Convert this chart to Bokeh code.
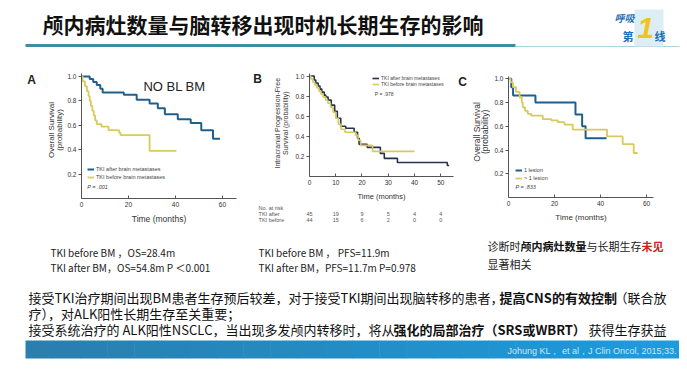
from math import pi
from bokeh.plotting import figure
from bokeh.layouts import column, row
from bokeh.models import Range1d, Label, Legend, LegendItem, FixedTicker, NumeralTickFormatter
from bokeh.embed import file_html
from bokeh.resources import INLINE

# ---------------- data ----------------
# Panel A: overall survival, no baseline brain metastases
a_after_t = [0, 3.5, 5, 6.5, 8, 9, 18, 23.5, 29, 32.5, 35.5, 41, 46.5, 51, 56, 59]
a_after_s = [1.0, 0.98, 0.955, 0.93, 0.90, 0.87, 0.85, 0.81, 0.78, 0.74, 0.69, 0.65, 0.62, 0.56, 0.49, 0.49]
a_before_t = [0, 0.5, 1.5, 2.3, 3, 3.5, 4, 4.6, 5.2, 5.8, 6.5, 8.5, 11.5, 16, 16.6, 29, 40.4]
a_before_s = [1.0, 0.96, 0.92, 0.88, 0.84, 0.80, 0.76, 0.72, 0.68, 0.64, 0.61, 0.59, 0.56, 0.54, 0.52, 0.39, 0.39]
a_xticks = [0, 20, 40, 60]

# Panel B: intracranial progression-free survival
b_after_t = [0, 1.8, 2.4, 3.3, 4.0, 4.7, 5.6, 6.2, 7.1, 8.3, 9.6, 10.6, 11.9, 13.8, 17, 18.3, 18.9, 22, 27, 28.5, 33.5, 52.5, 53.2]
b_after_s = [1.0, 0.96, 0.93, 0.90, 0.87, 0.84, 0.81, 0.79, 0.76, 0.71, 0.65, 0.58, 0.50, 0.48, 0.44, 0.38, 0.32, 0.29, 0.23, 0.18, 0.14, 0.11, 0.11]
b_before_t = [0, 0.5, 1.2, 2, 2.8, 3.6, 4.4, 5.2, 6.2, 7, 8, 9, 10, 11, 12, 13.5, 17.5, 18.5, 19.5, 24, 40]
b_before_s = [1.0, 0.97, 0.94, 0.91, 0.88, 0.85, 0.82, 0.79, 0.76, 0.73, 0.69, 0.64, 0.58, 0.52, 0.47, 0.44, 0.41, 0.36, 0.31, 0.25, 0.25]
b_xticks = [0, 10, 20, 30, 40, 50]
b_risk_after = ["45", "19", "9", "5", "4", "4"]
b_risk_before = ["44", "15", "6", "2", "0", "0"]

# Panel C: overall survival by number of lesions
c_one_t = [0, 1.2, 2.0, 11.7, 29.1, 32, 33.5, 42.6]
c_one_s = [1.0, 0.93, 0.86, 0.80, 0.70, 0.60, 0.50, 0.50]
c_multi_t = [0, 0.9, 1.9, 3.3, 4.8, 5.8, 6.2, 7.2, 8.4, 9.9, 14.9, 18.6, 21.4, 24.3, 27.9, 42.8, 49.6, 54.4, 56.1]
c_multi_s = [1.0, 0.97, 0.93, 0.89, 0.845, 0.80, 0.76, 0.73, 0.705, 0.69, 0.66, 0.65, 0.635, 0.615, 0.573, 0.515, 0.45, 0.375, 0.375]
c_xticks = [0, 20, 40, 60]

y_ticks = [0.2, 0.4, 0.6, 0.8, 1.0]

BLUE = "#1f5f8e"
NAVY = "#22344f"
YEL = "#d8ca5c"
AXC = "#555555"
CF = "Liberation Sans"
F = "Noto Sans CJK SC"


def km_panel(w, h, bl, br, bt, bb, xmax, ymax, xticks, xlab_size):
    p = figure(width=w, height=h, x_range=Range1d(0, xmax), y_range=Range1d(0, ymax),
               output_backend="svg", toolbar_location=None,
               min_border_left=bl, min_border_right=br, min_border_top=bt, min_border_bottom=bb)
    p.grid.visible = False
    p.outline_line_color = None
    p.xaxis.ticker = FixedTicker(ticks=xticks)
    p.yaxis.ticker = FixedTicker(ticks=y_ticks)
    p.yaxis.formatter = NumeralTickFormatter(format="0.0")
    for ax in (p.xaxis[0], p.yaxis[0]):
        ax.axis_line_color = AXC
        ax.major_tick_line_color = AXC
        ax.minor_tick_line_color = None
        ax.major_label_text_font = CF
        ax.major_label_text_font_size = "6.5px"
        ax.major_label_text_color = "#333333"
        ax.axis_label_text_font = CF
        ax.axis_label_text_font_style = "normal"
        ax.axis_label_text_color = "#333333"
        ax.major_label_standoff = 2
    p.xaxis.major_label_standoff = 3
    p.xaxis.major_tick_in = 3
    p.xaxis.major_tick_out = 0
    p.yaxis.major_tick_in = 0
    p.yaxis.major_tick_out = 3
    p.xaxis.axis_label = "Time (months)"
    p.xaxis.axis_label_text_font_size = xlab_size
    p.xaxis.axis_label_standoff = 4
    return p


def legend(p, items, loc, size="5.5px", h=8):
    lg = Legend(items=[LegendItem(label=l, renderers=[r]) for l, r in items], location=loc,
                orientation="vertical", padding=0, spacing=0, margin=0,
                glyph_width=7, glyph_height=h, label_height=h, label_standoff=2,
                label_text_font_size=size, label_text_color="#444444", label_text_font=CF,
                border_line_color=None, background_fill_alpha=0)
    p.add_layout(lg)


def lab(p, x, y, text, size, color="#222222", font=F, style="normal", align="left", angle=0):
    p.add_layout(Label(x=x, y=y, text=text, text_font_size=size, text_color=color,
                       text_font=font, text_font_style=style, text_align=align,
                       text_baseline="middle", angle=angle))


def deco(x0, x1, y0, y1, xr=None):
    """Decorative canvas whose data units are the slide's pixels (y downwards)."""
    p = figure(width=x1 - x0, height=y1 - y0,
               x_range=xr if xr is not None else Range1d(x0, x1), y_range=Range1d(y1, y0),
               output_backend="svg", toolbar_location=None, min_border=0)
    p.axis.visible = False
    p.grid.visible = False
    p.outline_line_color = None
    return p


def ylab(p, x, y, text, size):
    lab(p, x, y, text, size, "#333333", CF, "normal", "center", pi / 2)


# ---------------- Panel A ----------------
la = deco(0, 64, 62, 228)
lab(la, 31, 71, "A", "12px", "#222222", CF, "bold", "center")
ylab(la, 50.5, 137, "Overall Survival", "8px")
ylab(la, 59, 137, "(probability)", "8px")
pa = km_panel(176, 166, 15, 4, 11, 30, 66, 1.025, a_xticks, "8.5px")
ra1 = pa.step(a_after_t, a_after_s, mode="after", line_color=BLUE, line_width=2)
ra2 = pa.step(a_before_t, a_before_s, mode="after", line_color=YEL, line_width=1.8)
legend(pa, [("TKI after brain metastases", ra1), ("TKI before brain metastases", ra2)], (6, 17))
lab(pa, 2.5, 0.094, "P = .001", "5.5px", "#444444", CF, "italic")
lab(pa, 39.6, 0.918, "NO BL BM", "13px", "#222222", CF, "normal", "center")
group_a = row(la, pa)

# ---------------- Panel B ----------------
lb = deco(240, 290, 62, 203)
lab(lb, 257, 70, "B", "12px", "#222222", CF, "bold", "center")
ylab(lb, 277, 130, "Intracranial Progression-Free", "7px")
ylab(lb, 284.5, 130, "Survival (probability)", "7px")
pb = km_panel(165, 141, 19, 2, 11, 25, 54.86, 1.025, b_xticks, "7.5px")
rb1 = pb.step(b_after_t, b_after_s, mode="after", line_color=NAVY, line_width=1.6)
rb2 = pb.step(b_before_t, b_before_s, mode="after", line_color=YEL, line_width=1.6)
legend(pb, [("TKI after brain metastases", rb1), ("TKI before brain metastases", rb2)], (63, 89), "5px", 6)
lab(pb, 24.9, 0.825, "P = .978", "5px", "#444444", CF)
# number-at-risk strip: same month scale as panel B (2.625 px per month, 0 at x=309)
risk = deco(240, 455, 203, 228, xr=Range1d(-69 / 2.625, 146 / 2.625))
lab(risk, -19.4, 207, "No. at risk", "5.5px", "#555555", CF)
lab(risk, -19.4, 213, "TKI after", "5.5px", "#555555", CF)
lab(risk, -19.4, 219, "TKI before", "5.5px", "#555555", CF)
for xt, ra, rbf in zip(b_xticks, b_risk_after, b_risk_before):
    lab(risk, xt, 213, ra, "5.5px", "#555555", CF, "normal", "center")
    lab(risk, xt, 219, rbf, "5.5px", "#555555", CF, "normal", "center")
group_b = column(row(lb, pb), risk)

# ---------------- Panel C ----------------
lc = deco(455, 490, 62, 228)
lab(lc, 462, 70, "C", "12px", "#222222", CF, "bold", "center")
ylab(lc, 476.5, 138, "Overall Survival", "8.5px")
ylab(lc, 484.5, 138, "(probability)", "8.5px")
pc = km_panel(197, 166, 18, 34, 14, 31, 63, 1.02, c_xticks, "8px")
rc1 = pc.step(c_one_t, c_one_s, mode="after", line_color=BLUE, line_width=2)
rc2 = pc.step(c_multi_t, c_multi_s, mode="after", line_color=YEL, line_width=1.8)
legend(pc, [("1 lesion", rc1), ("> 1 lesion", rc2)], (7, 15))
lab(pc, 3.0, 0.085, "P = .833", "5.5px", "#444444", CF, "italic")
group_c = row(lc, pc)

# ---------------- slide header ----------------
top = deco(0, 687, 0, 62)
top.quad(left=[25], right=[515], top=[43.5], bottom=[46.5], fill_color="#3d8ea2", line_color=None)
top.quad(left=[515], right=[679], top=[45.5], bottom=[46.5], fill_color="#a9d3de", line_color=None)
top.quad(left=[634], right=[663], top=[9], bottom=[46], fill_color="#d9ebf5", line_color=None, fill_alpha=0.9)
lab(top, 42, 23, "颅内病灶数量与脑转移出现时机长期生存的影响", "21px", "#111111", F, "bold")
lab(top, 614, 17, "呼吸", "10px", "#1b6fb5", F, "bold italic")
lab(top, 622, 35, "第", "11px", "#1b6fb5", F, "bold")
lab(top, 645, 27, "1", "30px", "#f0c419", CF, "bold italic", "center")
lab(top, 654, 35, "线", "11px", "#1b6fb5", F, "bold")

# ---------------- slide footer ----------------
bot = deco(0, 687, 228, 370)
lab(bot, 50, 252, "TKI before BM ，OS=28.4m", "10px")
lab(bot, 50, 267, "TKI after BM，OS=54.8m  P ＜0.001", "10px")
lab(bot, 258, 252, "TKI before BM ， PFS=11.9m", "10px")
lab(bot, 258, 267, "TKI after BM，PFS=11.7m  P=0.978", "10px")
lab(bot, 487, 245, "诊断时", "11px")
lab(bot, 520, 245, "颅内病灶数量", "11px", "#111111", F, "bold")
lab(bot, 586, 245, "与长期生存", "11px")
lab(bot, 641, 245, "未见", "11px", "#d0201a", F, "bold")
lab(bot, 487, 263, "显著相关", "11px")

FS = "13px"
lab(bot, 28, 297, "接受TKI治疗期间出现BM患者生存预后较差，对于接受TKI期间出现脑转移的患者，", FS, "#111111")
lab(bot, 499, 297, "提高CNS的有效控制", FS, "#111111", F, "bold")
lab(bot, 614, 297, "（联合放", FS, "#111111")
lab(bot, 28, 313, "疗），对ALK阳性长期生存至关重要；", FS, "#111111")
lab(bot, 28, 329, "接受系统治疗的 ALK阳性NSCLC，当出现多发颅内转移时，将从", FS, "#111111")
lab(bot, 393, 329, "强化的局部治疗（SRS或WBRT）", FS, "#111111", F, "bold")
lab(bot, 588, 329, "获得生存获益", FS, "#111111")

# banner (decorative gradient made of slices)
n = 24
c0 = (0x2a, 0x7f, 0xae)
c1 = (0x1c, 0x9c, 0xde)
for i in range(n):
    f = i / (n - 1)
    col = "#%02x%02x%02x" % tuple(int(a + (b - a) * f) for a, b in zip(c0, c1))
    x0 = 25 + (678 - 25) * i / n
    x1 = 25 + (678 - 25) * (i + 1) / n + 0.5
    bot.quad(left=[x0], right=[x1], top=[340], bottom=[358], fill_color=col, line_color=None)
lab(bot, 676, 350, "Johung KL， et al，J Clin Oncol, 2015;33.", "9px", "#cfe3f1", CF, "normal", "right")

layout = column(top, row(group_a, group_b, group_c), bot)

open("out.html", "w").write(file_html(layout, INLINE))
